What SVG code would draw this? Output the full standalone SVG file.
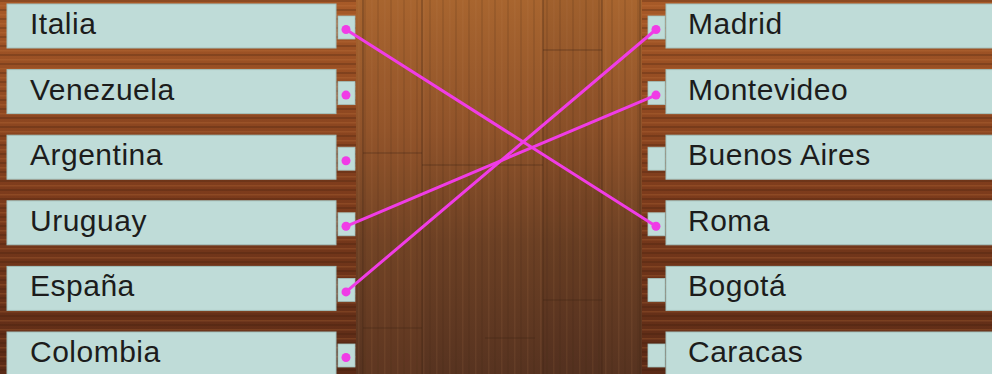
<svg xmlns="http://www.w3.org/2000/svg" width="992" height="374" viewBox="0 0 992 374">
<defs>
<linearGradient id="wood" x1="0" y1="0" x2="0" y2="1">
<stop offset="0" stop-color="#a8652f"/>
<stop offset="0.35" stop-color="#90532a"/>
<stop offset="0.65" stop-color="#6c4024"/>
<stop offset="1" stop-color="#573320"/>
</linearGradient>
<linearGradient id="side" x1="0" y1="0" x2="0" y2="1">
<stop offset="0" stop-color="#a85a28"/>
<stop offset="0.5" stop-color="#7e3c1c"/>
<stop offset="1" stop-color="#5a2a16"/>
</linearGradient>
<pattern id="hgrain" width="992" height="9" patternUnits="userSpaceOnUse">
<rect x="0" y="0" width="992" height="2" fill="#3a1a0c" opacity="0.25"/>
<rect x="0" y="5" width="992" height="1.5" fill="#d08048" opacity="0.2"/>
</pattern>
<pattern id="vgrain" width="13" height="374" patternUnits="userSpaceOnUse">
<rect x="0" y="0" width="2" height="374" fill="#3a200f" opacity="0.12"/>
<rect x="7" y="0" width="1.5" height="374" fill="#c88a55" opacity="0.1"/>
</pattern>
</defs>
<style>
.box{fill:#bfdcd8;stroke:#a4c2be;stroke-width:1}
.sq{fill:#bfdcd8;stroke:#a4c2be;stroke-width:0.8}
.dot{fill:#f03ce6}
.lbl{font-family:"Liberation Sans",Arial,sans-serif;font-size:30px;letter-spacing:0.5px;fill:#1c1c1c}
.seam{stroke:#3e2414;stroke-width:1.2;opacity:0.45}
</style>

<!-- background -->
<rect x="0" y="0" width="992" height="374" fill="url(#side)"/>
<rect x="0" y="0" width="992" height="374" fill="url(#hgrain)"/>
<rect x="356" y="0" width="286" height="374" fill="url(#wood)"/>
<rect x="356" y="0" width="286" height="374" fill="url(#vgrain)"/>
<rect x="363" y="0" width="59" height="374" fill="#b06a35" opacity="0.08"/>
<rect x="543" y="0" width="59" height="374" fill="#2a1509" opacity="0.06"/>
<line class="seam" x1="363" y1="0" x2="363" y2="374"/>
<line class="seam" x1="422" y1="0" x2="422" y2="374"/>
<line class="seam" x1="543" y1="0" x2="543" y2="374"/>
<line class="seam" x1="602" y1="0" x2="602" y2="374"/>
<line class="seam" x1="640" y1="0" x2="640" y2="374"/>
<line class="seam" x1="363" y1="153" x2="422" y2="153"/>
<line class="seam" x1="422" y1="165" x2="543" y2="165"/>
<line class="seam" x1="363" y1="328" x2="422" y2="328"/>
<line class="seam" x1="485" y1="338" x2="535" y2="338"/>
<line class="seam" x1="543" y1="300" x2="602" y2="300"/>
<line class="seam" x1="543" y1="50" x2="602" y2="50"/>

<!-- left nodes -->
<g id="left-italia"><rect class="box" x="7" y="4" width="329" height="44"/><rect class="sq" x="338" y="16" width="17" height="23"/><circle class="dot" cx="346" cy="29.5" r="4.5"/><text class="lbl" x="30" y="34">Italia</text></g>
<g id="left-venezuela"><rect class="box" x="7" y="69.6" width="329" height="44"/><rect class="sq" x="338" y="81.6" width="17" height="23"/><circle class="dot" cx="346" cy="95.1" r="4.5"/><text class="lbl" x="30" y="99.6">Venezuela</text></g>
<g id="left-argentina"><rect class="box" x="7" y="135.2" width="329" height="44"/><rect class="sq" x="338" y="147.2" width="17" height="23"/><circle class="dot" cx="346" cy="160.7" r="4.5"/><text class="lbl" x="30" y="165.2">Argentina</text></g>
<g id="left-uruguay"><rect class="box" x="7" y="200.8" width="329" height="44"/><rect class="sq" x="338" y="212.8" width="17" height="23"/><circle class="dot" cx="346" cy="226.3" r="4.5"/><text class="lbl" x="30" y="230.8">Uruguay</text></g>
<g id="left-espana"><rect class="box" x="7" y="266.4" width="329" height="44"/><rect class="sq" x="338" y="278.4" width="17" height="23"/><circle class="dot" cx="346" cy="291.9" r="4.5"/><text class="lbl" x="30" y="296.4">España</text></g>
<g id="left-colombia"><rect class="box" x="7" y="332" width="329" height="44"/><rect class="sq" x="338" y="344" width="17" height="23"/><circle class="dot" cx="346" cy="357.5" r="4.5"/><text class="lbl" x="30" y="362">Colombia</text></g>

<!-- right nodes -->
<g id="right-madrid"><rect class="box" x="666" y="4" width="330" height="44"/><rect class="sq" x="648" y="16" width="17" height="23"/><circle class="dot" cx="656" cy="29.5" r="4.5"/><text class="lbl" x="688" y="34">Madrid</text></g>
<g id="right-montevideo"><rect class="box" x="666" y="69.6" width="330" height="44"/><rect class="sq" x="648" y="81.6" width="17" height="23"/><circle class="dot" cx="656" cy="95.1" r="4.5"/><text class="lbl" x="688" y="99.6">Montevideo</text></g>
<g id="right-buenosaires"><rect class="box" x="666" y="135.2" width="330" height="44"/><rect class="sq" x="648" y="147.2" width="17" height="23"/><text class="lbl" x="688" y="165.2">Buenos Aires</text></g>
<g id="right-roma"><rect class="box" x="666" y="200.8" width="330" height="44"/><rect class="sq" x="648" y="212.8" width="17" height="23"/><circle class="dot" cx="656" cy="226.3" r="4.5"/><text class="lbl" x="688" y="230.8">Roma</text></g>
<g id="right-bogota"><rect class="box" x="666" y="266.4" width="330" height="44"/><rect class="sq" x="648" y="278.4" width="17" height="23"/><text class="lbl" x="688" y="296.4">Bogotá</text></g>
<g id="right-caracas"><rect class="box" x="666" y="332" width="330" height="44"/><rect class="sq" x="648" y="344" width="17" height="23"/><text class="lbl" x="688" y="362">Caracas</text></g>

<!-- connectors -->
<g id="connectors" stroke="#f03ce6" stroke-width="3" stroke-linecap="round">
<line x1="346" y1="29.5" x2="656" y2="226.3"/>
<line x1="656" y1="29.5" x2="346" y2="291.9"/>
<line x1="656" y1="95.1" x2="346" y2="226.3"/>
</g>
</svg>
